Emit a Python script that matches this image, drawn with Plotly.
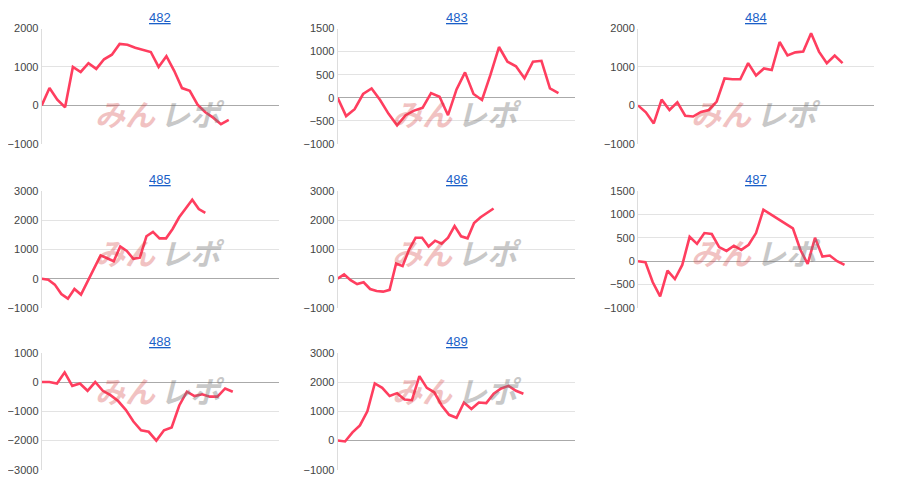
import plotly.graph_objects as go

names = ["482", "483", "484", "485", "486", "487", "488", "489"]

v482 = [0, 450, 150, -50, 1000, 870, 1100, 950, 1200, 1320, 1600, 1580, 1500, 1450, 1390,
        1000, 1280, 900, 450, 380, 20, -180, -320, -490, -380]
v483 = [0, -400, -250, 80, 200, -50, -350, -600, -380, -280, -220, 100, 20, -380, 180, 550,
        80, -50, 500, 1100, 780, 680, 420, 780, 800, 200, 100]
v484 = [0, -180, -470, 150, -120, 80, -270, -290, -170, -120, 100, 700, 680, 680, 1100, 780,
        960, 920, 1650, 1300, 1380, 1400, 1880, 1400, 1100, 1300, 1100]
v485 = [0, -30, -200, -520, -680, -350, -540, -100, 350, 800, 700, 600, 1100, 950, 680, 720,
        1450, 1600, 1380, 1380, 1700, 2100, 2400, 2700, 2380, 2250]
v486 = [0, 150, -50, -180, -120, -350, -420, -440, -380, 520, 430, 1000, 1400, 1400, 1100,
        1300, 1200, 1400, 1800, 1450, 1380, 1900, 2100, 2250, 2400]
v487 = [0, -20, -450, -750, -200, -380, -80, 520, 370, 600, 580, 300, 220, 330, 240, 350, 600,
        1100, 1000, 900, 800, 700, 250, -60, 500, 100, 120, 0, -80]
v488 = [0, 0, -50, 330, -130, -50, -300, 0, -300, -450, -650, -950, -1350, -1650, -1700,
        -2000, -1650, -1550, -800, -330, -480, -420, -500, -500, -220, -330]
v489 = [0, -30, 280, 520, 1000, 1950, 1800, 1520, 1620, 1400, 1380, 2200, 1800, 1650, 1200,
        880, 780, 1300, 1080, 1300, 1280, 1600, 1780, 1870, 1700, 1600]
series = [v482, v483, v484, v485, v486, v487, v488, v489]

x_max = [30.4, 28, 30, 36.2, 36.6, 32, 31, 32]
y_ticks = [
    [-1000, 0, 1000, 2000],
    [-1000, -500, 0, 500, 1000, 1500],
    [-1000, 0, 1000, 2000],
    [-1000, 0, 1000, 2000, 3000],
    [-1000, 0, 1000, 2000, 3000],
    [-1000, -500, 0, 500, 1000, 1500],
    [-3000, -2000, -1000, 0, 1000],
    [-1000, 0, 1000, 2000, 3000],
]

col_dom = [(0.031, 0.296), (0.362, 0.628), (0.698, 0.962)]
row_dom = [(0.733, 0.970), (0.395, 0.636), (0.062, 0.303)]

fig = go.Figure()
for i, (name, vals) in enumerate(zip(names, series)):
    r, c = divmod(i, 3)
    n = "" if i == 0 else str(i + 1)
    fig.add_trace(go.Scatter(x=list(range(len(vals))), y=vals, mode="lines",
                             line=dict(color="#ff3e5f", width=2.6),
                             xaxis="x" + n, yaxis="y" + n, showlegend=False))
    ticks = y_ticks[i]
    fig.update_layout(**{
        "xaxis" + n: dict(domain=col_dom[c], anchor="y" + n, range=[0, x_max[i]],
                          showticklabels=False, showgrid=False, zeroline=False,
                          showline=False, fixedrange=True),
        "yaxis" + n: dict(domain=row_dom[r], anchor="x" + n, range=[ticks[0], ticks[-1]],
                          tickvals=ticks, showgrid=True, gridcolor="#e3e3e3",
                          zeroline=True, zerolinecolor="#aaaaaa", zerolinewidth=1,
                          showline=True, linecolor="#dddddd",
                          tickfont=dict(size=11, color="#444444")),
    })
    xm = (col_dom[c][0] + col_dom[c][1]) / 2
    # title link
    fig.add_annotation(text="<u>%s</u>" % name, x=xm, y=row_dom[r][1] + 0.004,
                       xref="paper", yref="paper", xanchor="center", yanchor="bottom",
                       showarrow=False, font=dict(size=13, color="#1a5fc8"))
    # watermark
    ym = (row_dom[r][0] + row_dom[r][1]) / 2 - 0.005
    fig.add_annotation(text="<b><i>みん</i></b>", x=xm - 0.002, y=ym, xref="paper", yref="paper",
                       xanchor="right", showarrow=False, opacity=0.3,
                       font=dict(size=30, color="#d33a3a", family="Noto Sans CJK JP"))
    fig.add_annotation(text="<b><i>レポ</i></b>", x=xm - 0.002, y=ym, xref="paper", yref="paper",
                       xanchor="left", showarrow=False, opacity=0.4,
                       font=dict(size=30, color="#777777", family="Noto Sans CJK JP"))

fig.update_layout(width=900, height=498, margin=dict(l=0, r=0, t=0, b=0),
                  plot_bgcolor="white", paper_bgcolor="white",
                  font=dict(family="Arial, Liberation Sans"))
fig.write_html("out.html")
